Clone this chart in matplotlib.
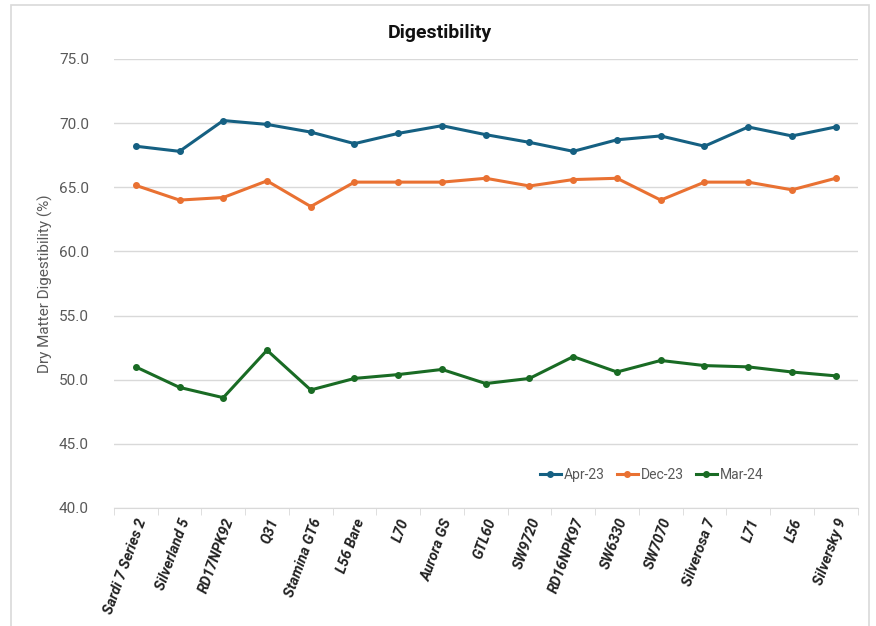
import matplotlib
matplotlib.use("Agg")
import matplotlib.pyplot as plt
from matplotlib.patches import Rectangle

plt.rcParams['font.family'] = ['Roboto', 'DejaVu Sans']

varieties = ["Sardi 7 Series 2", "Silverland 5", "RD17NPK92", "Q31", "Stamina GT6",
             "L56 Bare", "L70", "Aurora GS", "GTL60", "SW9720", "RD16NPK97",
             "SW6330", "SW7070", "Silverosa 7", "L71", "L56", "Silversky 9"]

apr23 = [68.2, 67.8, 70.2, 69.9, 69.3, 68.4, 69.2, 69.8, 69.1, 68.5, 67.8,
         68.7, 69.0, 68.2, 69.7, 69.0, 69.7]
dec23 = [65.15, 64.0, 64.2, 65.5, 63.5, 65.4, 65.4, 65.4, 65.7, 65.1, 65.6,
         65.7, 64.0, 65.4, 65.4, 64.8, 65.7]
mar24 = [51.0, 49.4, 48.6, 52.3, 49.2, 50.1, 50.4, 50.8, 49.7, 50.1, 51.8,
         50.6, 51.5, 51.1, 51.0, 50.6, 50.3]

series = [("Apr-23", apr23, "#156082"),
          ("Dec-23", dec23, "#E97132"),
          ("Mar-24", mar24, "#196B24")]

fig = plt.figure(figsize=(8.76, 6.26), dpi=100)
ax = fig.add_axes([0.130, 0.1885, 0.849, 0.7173])

# chart frame
fig.patches.append(Rectangle((11 / 876, -0.05), 858 / 876, 1.05 - 5 / 626,
                             transform=fig.transFigure, fill=False,
                             edgecolor="#d9d9d9", linewidth=1.2))

x = list(range(len(varieties)))
for name, vals, col in series:
    ax.plot(x, vals, color=col, linewidth=2.2, marker="o", markersize=4, label=name)

ax.set_ylim(40, 75)
ax.set_yticks([40, 45, 50, 55, 60, 65, 70, 75])
ax.set_yticklabels([f"{v:.1f}" for v in ax.get_yticks()])
ax.set_xlim(-0.5, len(varieties) - 0.5)
ax.set_xticks(x)
ax.set_xticklabels(varieties, rotation=70, ha="right", rotation_mode="anchor",
                   fontsize=10.5, fontweight="bold", fontstyle="italic", color="#222222")
ax.set_xticks([i - 0.5 for i in range(len(varieties) + 1)], minor=True)
ax.tick_params(axis="x", which="major", length=0, pad=6)
ax.tick_params(axis="x", which="minor", length=5, color="#d9d9d9")
ax.tick_params(axis="y", length=0, labelsize=11, labelcolor="#595959", pad=18)

ax.grid(axis="y", color="#d9d9d9", linewidth=1)
ax.set_axisbelow(True)
for s in ["top", "right", "left"]:
    ax.spines[s].set_visible(False)
ax.spines["bottom"].set_color("#d9d9d9")

ax.set_ylabel("Dry Matter Digestibility (%)", fontsize=11, color="#595959", labelpad=4)
fig.text(0.502, 0.948, "Digestibility", ha="center", va="center",
         fontsize=14, fontweight="bold", color="#111111")

ax.legend(loc="center", bbox_to_anchor=(0.723, 0.073), ncol=3, frameon=False,
          fontsize=10, labelcolor="#595959", handlelength=1.5, handletextpad=0.2,
          columnspacing=0.9)

fig.savefig("out.png", dpi=100)
